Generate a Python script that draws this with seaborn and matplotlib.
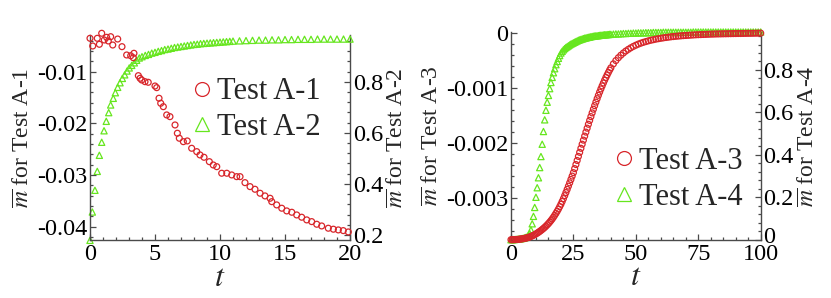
import numpy as np
import seaborn as sns
import matplotlib.pyplot as plt
import matplotlib.transforms as mtransforms
from matplotlib.lines import Line2D
from matplotlib.ticker import MultipleLocator, AutoMinorLocator

# ---- Test A-1 (left axis of the left panel)
t_a1 = [0.00, 0.21, 0.56, 0.72, 0.90, 1.10, 1.28, 1.41, 1.59, 1.75, 2.13, 2.46, 2.82,
        3.13, 3.38, 3.33, 3.72, 3.85, 3.98, 4.23, 4.48, 5.00, 5.13, 5.31, 5.44, 5.64,
        5.90, 6.15, 6.54, 6.72, 6.87, 7.18, 7.48, 7.82, 8.21, 8.46, 8.77, 9.18, 9.48,
        9.75, 10.13, 10.52, 10.90, 11.28, 11.54, 11.92, 12.31, 12.69, 13.08, 13.46,
        13.85, 13.98, 14.36, 14.75, 15.13, 15.52, 15.90, 16.28, 16.67, 17.05, 17.44,
        17.82, 18.33, 18.72, 19.10, 19.48, 19.87]
m_a1 = [-0.354, -0.503, -0.354, -0.470, -0.257, -0.387, -0.335, -0.406, -0.323, -0.484,
        -0.368, -0.516, -0.677, -0.691, -0.644, -0.729, -1.077, -1.128, -1.161, -1.193,
        -1.205, -1.277, -1.309, -1.514, -1.611, -1.677, -1.837, -1.870, -2.031, -2.191,
        -2.288, -2.354, -2.340, -2.482, -2.547, -2.611, -2.656, -2.741, -2.805, -2.838,
        -2.965, -2.965, -2.998, -3.031, -3.031, -3.147, -3.224, -3.275, -3.352, -3.404,
        -3.449, -3.515, -3.578, -3.642, -3.694, -3.720, -3.772, -3.816, -3.868, -3.901,
        -3.952, -3.985, -4.029, -4.048, -4.062, -4.075, -4.101]  # x 1e-2

# ---- Test A-2 (right axis of the left panel)
t_a2 = [0.00, 0.18, 0.38, 0.56, 0.72, 0.90, 1.08, 1.25, 1.44, 1.59, 1.79, 1.95, 2.13,
        2.31, 2.49, 2.67, 2.85, 3.02, 3.21, 3.41, 3.59, 3.79,
        4.00, 4.25, 4.50, 4.75, 5.00, 5.25, 5.50, 5.75, 6.00, 6.25, 6.50, 6.75, 7.00,
        7.25, 7.50, 7.75, 8.00, 8.25, 8.50, 8.75, 9.00, 9.25, 9.50, 9.75, 10.00, 10.25,
        10.50, 10.75, 11.00, 11.50, 12.00, 12.50, 13.00, 13.50, 14.00, 14.50, 15.00,
        15.50, 16.00, 16.50, 17.00, 17.50, 18.00, 18.50, 19.00, 19.50, 20.00]
m_a2 = [0.179, 0.290, 0.375, 0.449, 0.512, 0.563, 0.608, 0.645, 0.679, 0.709, 0.735,
        0.757, 0.778, 0.796, 0.813, 0.827, 0.842, 0.854, 0.864, 0.874, 0.884, 0.893,
        0.898, 0.903, 0.907, 0.912, 0.915, 0.919, 0.922, 0.926, 0.928, 0.931, 0.934,
        0.936, 0.938, 0.940, 0.942, 0.944, 0.946, 0.947, 0.949, 0.950, 0.951, 0.952,
        0.953, 0.954, 0.955, 0.956, 0.957, 0.958, 0.959, 0.960, 0.961, 0.962, 0.963,
        0.963, 0.964, 0.964, 0.965, 0.965, 0.966, 0.966, 0.966, 0.967, 0.967, 0.967,
        0.967, 0.967, 0.967]

# ---- Tests A-3 / A-4 (right panel): sampled every 0.5 up to t=40, then every 1
t_right = np.concatenate([np.arange(0, 40.01, 0.5), np.arange(41, 100.01, 1.0)])
m_a3 = [-3.760, -3.760, -3.759, -3.758, -3.757, -3.755, -3.753, -3.750, -3.747, -3.744,
        -3.740, -3.735, -3.730, -3.724, -3.717, -3.709, -3.700, -3.690, -3.679, -3.667,
        -3.654, -3.640, -3.625, -3.609, -3.592, -3.574, -3.555, -3.535, -3.513, -3.490,
        -3.466, -3.440, -3.412, -3.382, -3.350, -3.316, -3.280, -3.242, -3.202, -3.159,
        -3.114, -3.064, -3.012, -2.958, -2.902, -2.844, -2.785, -2.725, -2.664, -2.602,
        -2.539, -2.466, -2.392, -2.318, -2.244, -2.170, -2.096, -2.022, -1.948, -1.875,
        -1.802, -1.730, -1.659, -1.589, -1.520, -1.452, -1.385, -1.320, -1.256, -1.193,
        -1.132, -1.073, -1.016, -0.961, -0.908, -0.857, -0.808, -0.761, -0.716, -0.673,
        -0.632,
        -0.560, -0.500, -0.448, -0.402, -0.362, -0.326, -0.295, -0.267, -0.242, -0.220,
        -0.200, -0.183, -0.168, -0.154, -0.141, -0.130, -0.120, -0.110, -0.102, -0.094,
        -0.087, -0.080, -0.074, -0.068, -0.063, -0.058, -0.054, -0.050, -0.046, -0.043,
        -0.040, -0.037, -0.034, -0.031, -0.029, -0.027, -0.025, -0.023, -0.021, -0.019,
        -0.018, -0.016, -0.015, -0.014, -0.013, -0.012, -0.011, -0.010, -0.009, -0.008,
        -0.007, -0.007, -0.006, -0.005, -0.004, -0.004, -0.003, -0.002, -0.001, 0.000]  # x 1e-3
m_a4 = [0.000, 0.000, 0.001, 0.001, 0.002, 0.002, 0.003, 0.004, 0.005, 0.006,
        0.007, 0.009, 0.011, 0.014, 0.019, 0.029, 0.046, 0.075, 0.110, 0.152,
        0.200, 0.245, 0.292, 0.340, 0.392, 0.450, 0.510, 0.565, 0.610, 0.648,
        0.680, 0.712, 0.741, 0.765, 0.787, 0.806, 0.825, 0.840, 0.855, 0.868,
        0.880, 0.888, 0.895, 0.901, 0.906, 0.910, 0.914, 0.918, 0.922, 0.925,
        0.928, 0.931, 0.934, 0.937, 0.940, 0.942, 0.944, 0.946, 0.948, 0.950,
        0.951, 0.953, 0.954, 0.955, 0.957, 0.958, 0.959, 0.960, 0.961, 0.961,
        0.962, 0.963, 0.964, 0.964, 0.965, 0.966, 0.966, 0.967, 0.967, 0.968,
        0.968,
        0.969, 0.970, 0.970, 0.971, 0.972, 0.972, 0.973, 0.973, 0.974, 0.974,
        0.975, 0.975, 0.975, 0.976, 0.976, 0.976, 0.977, 0.977, 0.977, 0.977,
        0.978, 0.978, 0.978, 0.978, 0.978, 0.978, 0.978, 0.978, 0.978, 0.978,
        0.978, 0.978, 0.979, 0.979, 0.979, 0.979, 0.979, 0.979, 0.979, 0.979,
        0.979, 0.979, 0.979, 0.979, 0.979, 0.979, 0.979, 0.979, 0.979, 0.979,
        0.979, 0.979, 0.979, 0.979, 0.979, 0.979, 0.979, 0.979, 0.979, 0.979]

RED = "#d8262b"
GREEN = "#66e61e"
SPINE = "#4a4a4a"

sns.set_theme(style="ticks")
plt.rcParams["font.family"] = ["Liberation Serif", "DejaVu Serif"]
plt.rcParams["mathtext.fontset"] = "stix"
plt.rcParams["axes.unicode_minus"] = False

fig = plt.figure(figsize=(8.31, 2.98), dpi=100)


def style_axis(ax):
    ax.tick_params(which="both", direction="in", colors=SPINE, labelcolor="black",
                   labelsize=17.5, width=0.9, pad=2)
    ax.tick_params(which="major", length=4)
    ax.tick_params(which="minor", length=2)
    for s in ax.spines.values():
        s.set_color(SPINE)
        s.set_linewidth(1.0)
    ax.spines["top"].set_visible(False)


def scatter(ax, x, y, marker, color, size):
    sns.scatterplot(x=x, y=y, ax=ax, marker=marker, s=size, fc="none", ec=color,
                    linewidth=0.9, clip_on=False, legend=False, zorder=3)


def panel(rect, t1, y1, t2, y2, lab1, lab2, xmax, xmajor, lim1, major1, lim2, leg_anchor):
    ax = fig.add_axes(rect)
    ax2 = ax.twinx()
    scatter(ax2, t2, y2, "^", GREEN, 20)
    scatter(ax, t1, y1, "o", RED, 18)
    ax.set_zorder(ax2.get_zorder() + 1)
    ax.patch.set_visible(False)

    ax.set_xlim(0, xmax)
    ax.set_ylim(*lim1)
    ax2.set_ylim(*lim2)
    ax.xaxis.set_major_locator(MultipleLocator(xmajor))
    ax.xaxis.set_minor_locator(AutoMinorLocator(5))
    ax.yaxis.set_major_locator(MultipleLocator(major1))
    ax.yaxis.set_minor_locator(AutoMinorLocator(5))
    ax2.yaxis.set_major_locator(MultipleLocator(0.2))
    ax2.yaxis.set_minor_locator(AutoMinorLocator(5))
    style_axis(ax)
    style_axis(ax2)
    ax.tick_params(axis="x", pad=3)
    ax.spines["right"].set_visible(False)
    ax2.spines["left"].set_visible(False)
    ax2.spines["bottom"].set_visible(False)

    ax.set_xlabel(r"$t$", fontsize=23, labelpad=-1)
    ax.set_ylabel(r"$\overline{m}$ for " + lab1, fontsize=17, labelpad=2)
    ax2.set_ylabel(r"$\overline{m}$ for " + lab2, fontsize=17, labelpad=3)

    handles = [Line2D([], [], ls="none", marker="o", ms=10, mfc="none", mec=RED, mew=0.9),
               Line2D([], [], ls="none", marker="^", ms=10, mfc="none", mec=GREEN, mew=0.9)]
    ax.legend(handles, [lab1, lab2], loc="center left", bbox_to_anchor=leg_anchor,
              frameon=False, fontsize=22, handlelength=0.8, handletextpad=0.1,
              labelspacing=0.22, borderaxespad=0)
    return ax, ax2


# left panel (values for A-1 are in units of 1e-2)
axL, axL2 = panel([0.1083, 0.1946, 0.3129, 0.688], t_a1, np.array(m_a1) * 1e-2, t_a2, m_a2,
                  "Test A-1", "Test A-2", 20, 5, (-0.04257, -0.0029), 0.01, (0.1804, 0.983),
                  (0.335, 0.635))
# right panel (values for A-3 are in units of 1e-3)
axR, axR2 = panel([0.6149, 0.1956, 0.3005, 0.697], t_right, np.array(m_a3) * 1e-3, t_right, m_a4,
                  "Test A-3", "Test A-4", 100, 25, (-0.00376, 0.00002), 0.001, (0.0, 0.979),
                  (0.355, 0.29))
axR.yaxis.set_major_formatter(plt.FuncFormatter(lambda v, p: "0" if abs(v) < 1e-9 else f"{v:.3f}"))
axR2.yaxis.set_major_formatter(plt.FuncFormatter(lambda v, p: "0" if abs(v) < 1e-9 else f"{v:.1f}"))
axL.yaxis.set_major_formatter(plt.FuncFormatter(lambda v, p: f"{v:.2f}"))
axL2.yaxis.set_major_formatter(plt.FuncFormatter(lambda v, p: f"{v:.1f}"))

# lift the "0" of the A-4 axis a little so it clears the "100" below it
fig.canvas.draw()
lift = mtransforms.ScaledTranslation(0, 5 / 100, fig.dpi_scale_trans)
for tick in axR2.yaxis.get_major_ticks():
    if abs(tick.get_loc()) < 1e-9:
        tick.label2.set_transform(tick.label2.get_transform() + lift)

fig.savefig("out.png", dpi=100)
